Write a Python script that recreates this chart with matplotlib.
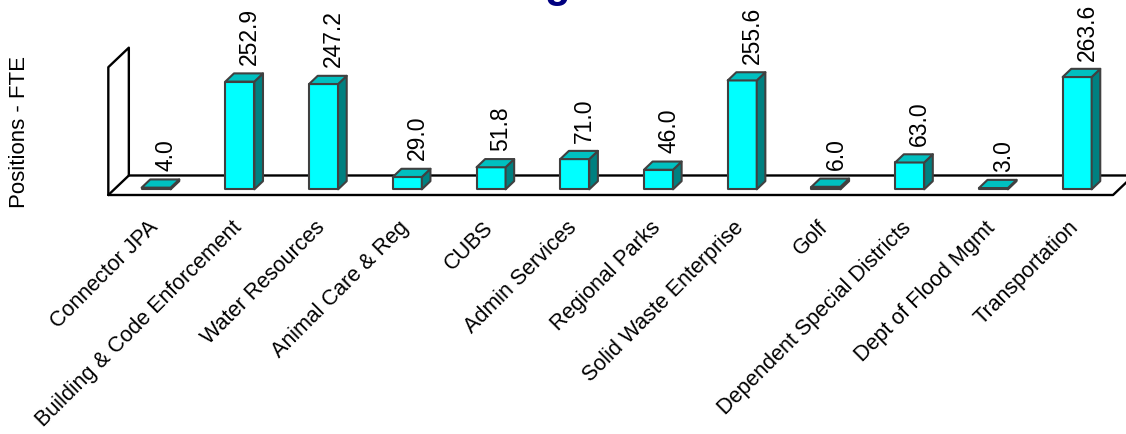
import matplotlib
matplotlib.use("Agg")
import matplotlib.pyplot as plt

plt.rcParams['font.family'] = ['Liberation Sans', 'DejaVu Sans']

departments = ["Connector JPA", "Building & Code Enforcement", "Water Resources",
               "Animal Care & Reg", "CUBS", "Admin Services", "Regional Parks",
               "Solid Waste Enterprise", "Golf", "Dependent Special Districts",
               "Dept of Flood Mgmt", "Transportation"]
fte = [4.0, 252.9, 247.2, 29.0, 51.8, 71.0, 46.0, 255.6, 6.0, 63.0, 3.0, 263.6]

fig = plt.figure(figsize=(11.26, 4.34), dpi=100)
ax = fig.add_axes([0.0962, 0.5507, 0.8923, 0.2945])
n = len(fte)
ax.set_xlim(-0.5, n - 0.5)
ax.set_ylim(0, 300)
ax.axis('off')

# floor depth (data units) for the fake 3d look
ddx, ddy = 0.245, 45.8
x0, x1 = -0.5, n - 0.5
line_kw = dict(color='black', lw=1.7, clip_on=False, zorder=1, solid_capstyle='round')
# floor
ax.plot([x0, x1, x1 + ddx], [0, 0, ddy], **line_kw)
ax.plot([x0, x0 + ddx, x1 + ddx], [0, ddy, ddy], **line_kw)
# left wall
ax.plot([x0, x0, x0 + ddx, x0 + ddx], [0, 300, 300 + ddy, ddy], **line_kw)

# bars
w = 0.3465
f = 0.29   # where the bar front sits inside the floor depth
b = 0.42   # bar depth
bx, by = b * ddx, b * ddy
edge = dict(edgecolor='#404040', lw=1.5, clip_on=False, zorder=3, joinstyle='round')
for i, v in enumerate(fte):
    left = i - w / 2 + f * ddx
    base = f * ddy
    top = base + v
    ax.fill([left, left + w, left + w, left], [base, base, top, top], facecolor='#00FFFF', **edge)
    ax.fill([left + w, left + w + bx, left + w + bx, left + w],
            [base, base + by, top + by, top], facecolor='#008080', **edge)
    ax.fill([left, left + w, left + w + bx, left + bx],
            [top, top, top + by, top + by], facecolor='#00C0C0', **edge)
    ax.annotate(f"{v:.1f}", xy=(left + w / 2 + bx, top + by), xytext=(1, 6),
                textcoords='offset points', rotation=90, ha='center', va='bottom',
                fontsize=16.5, annotation_clip=False)
    ax.annotate(departments[i], xy=(i, 0), xytext=(-2, -16), textcoords='offset points',
                rotation=45, rotation_mode='anchor', ha='right', va='top',
                fontsize=15.5, annotation_clip=False)

fig.text(20 / 1126, 1 - 132 / 434, "Positions - FTE", rotation=90,
         ha='center', va='center', fontsize=16)
# title sits above the visible area, only the descender shows
fig.text(557 / 1126, 1 + 3 / 434, "g", ha='center', va='baseline',
         fontsize=30, fontweight='bold', color='#000080')

fig.savefig("out.png", dpi=100)
